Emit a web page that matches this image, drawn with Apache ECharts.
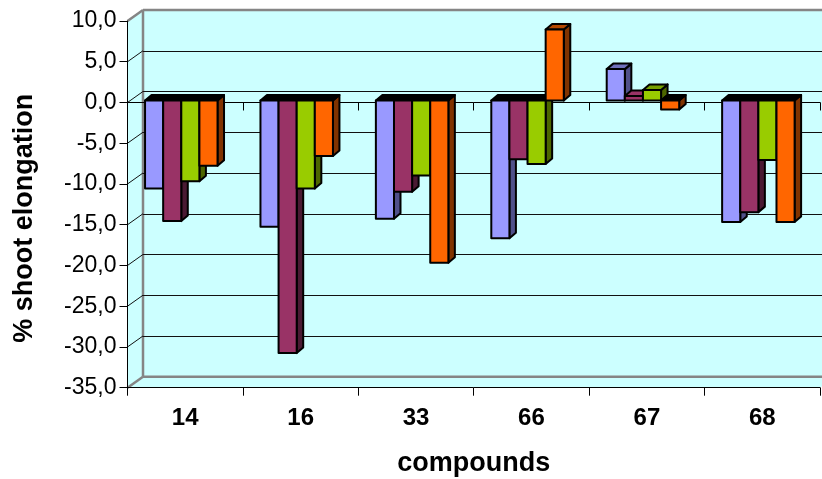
<!DOCTYPE html>
<html><head><meta charset="utf-8">
<style>html,body{margin:0;padding:0;background:#fff}#c{width:822px;height:479px}</style>
<script src="https://cdn.jsdelivr.net/npm/echarts@6/dist/echarts.min.js"></script>
</head><body><div id="c"></div>
<script>
const categories = ['14','16','33','66','67','68'];
const seriesA = [-10.8,-15.5,-14.5,-16.9,3.85,-14.9];
const seriesB = [-14.8,-31.0,-11.2,-7.2,0.55,-13.7];
const seriesC = [-9.9,-10.8,-9.2,-7.8,1.3,-7.3];
const seriesD = [-8.0,-6.8,-19.9,8.7,-1.1,-14.9];
const yTicks = [10,5,0,-5,-10,-15,-20,-25,-30,-35];
const allSeries = [seriesA,seriesB,seriesC,seriesD];
const faces = [
 {front:'#9999FF',top:'#7070BB',side:'#50508A'},
 {front:'#993366',top:'#993366',side:'#4A1A33'},
 {front:'#99CC00',top:'#77A000',side:'#4D6600'},
 {front:'#FF6600',top:'#B34700',side:'#803300'}
];
const WALL_DX=15.5, WALL_DY=-11, FRAME='#858585', WALL='#CCFFFF';
const BAR_DX=6.5, BAR_DY=-5.5, PLANE_DY=-2, BAR_START=0.152, BAR_W=0.157;

function wallsItem(params,api){
  const cs=params.coordSys;
  const l=cs.x,r=cs.x+cs.width,t=cs.y,b=cs.y+cs.height;
  const dx=WALL_DX,dy=WALL_DY;
  const fill={fill:WALL,stroke:null};
  const line=(x1,y1,x2,y2)=>({type:'line',shape:{x1,y1,x2,y2},style:{stroke:FRAME,lineWidth:2.5}});
  return {type:'group',silent:true,children:[
    {type:'polygon',shape:{points:[[l,t],[l+dx,t+dy],[r+dx,t+dy],[r+dx,b+dy],[r,b],[l,b]]},style:fill},
    line(l+dx,t+dy,r+dx,t+dy),line(l+dx,t+dy,l+dx,b+dy),line(l+dx,b+dy,r+dx,b+dy),
    line(l,t,l+dx,t+dy),line(l,b,l+dx,b+dy)
  ]};
}
function gridItem(params,api){
  const cs=params.coordSys, v=api.value(0), y=api.coord([0,v])[1];
  const l=cs.x,r=cs.x+cs.width;
  const st={stroke:'#111',lineWidth:1};
  const kids=[];
  if(v!==10&&v!==-35){
    kids.push({type:'line',shape:{x1:l,y1:y,x2:l+WALL_DX,y2:y+WALL_DY},style:st});
    kids.push({type:'line',shape:{x1:l+WALL_DX,y1:Math.round(y+WALL_DY)+.5,x2:r+WALL_DX,y2:Math.round(y+WALL_DY)+.5},style:st});
  }
  return {type:'group',silent:true,children:kids};
}
function barItem(si){
  return function(params,api){
    const c=api.value(0), v=api.value(1);
    const band=api.size([1,0])[0];
    const left=api.coord([c,0])[0]-band/2+BAR_START*band+si*BAR_W*band;
    const w=BAR_W*band;
    const y0=api.coord([c,0])[1]+PLANE_DY, y1=api.coord([c,v])[1]+PLANE_DY;
    const top=Math.min(y0,y1), bot=Math.max(y0,y1);
    const st=f=>({fill:f,stroke:'#000',lineWidth:2,lineJoin:'round'});
    const f=faces[si];
    return {type:'group',children:[
      {type:'polygon',shape:{points:[[left+w,top],[left+w+BAR_DX,top+BAR_DY],[left+w+BAR_DX,bot+BAR_DY],[left+w,bot]]},style:st(f.side)},
      {type:'polygon',shape:{points:[[left,top],[left+BAR_DX,top+BAR_DY],[left+w+BAR_DX,top+BAR_DY],[left+w,top]]},style:st(v<0?'#000':f.top)},
      {type:'rect',shape:{x:left,y:top,width:w,height:bot-top},style:st(f.front)}
    ]};
  };
}
const chart=echarts.init(document.getElementById('c'),null,{renderer:'canvas'});
const FONT='"Liberation Sans", Arial, sans-serif';
chart.setOption({
  animation:false,
  backgroundColor:'#fff',
  grid:{left:127.5,top:21,width:692.5,height:366.7,outerBoundsMode:'none'},
  xAxis:[
    {type:'category',position:'bottom',data:categories,
      axisLine:{onZero:false,lineStyle:{color:'#000',width:1}},
      axisTick:{show:true,alignWithLabel:false,length:8,lineStyle:{color:'#000'}},
      axisLabel:{margin:19,fontFamily:FONT,fontWeight:'bold',fontSize:24,color:'#000'},
      name:'compounds',nameLocation:'middle',nameGap:62,
      nameTextStyle:{fontFamily:FONT,fontWeight:'bold',fontSize:27,color:'#000'}},
    {type:'category',position:'bottom',data:categories,
      axisLine:{onZero:true,lineStyle:{color:'#000',width:1}},
      axisTick:{show:true,alignWithLabel:false,length:8,lineStyle:{color:'#000'}},
      axisLabel:{show:false}}
  ],
  yAxis:{type:'value',min:-35,max:10,interval:5,
    axisLine:{show:true,onZero:false,lineStyle:{color:'#000',width:1}},
    axisTick:{show:true,length:8,lineStyle:{color:'#000'}},
    splitLine:{show:false},
    axisLabel:{margin:11,fontFamily:FONT,fontSize:23,color:'#000',
      formatter:v=>v.toFixed(1).replace('.',',')},
    name:'% shoot elongation',nameLocation:'middle',nameGap:89,
    nameTextStyle:{fontFamily:FONT,fontWeight:'bold',fontSize:27,color:'#000',padding:[0,28,0,0]}},
  series:[
    {type:'custom',z:-3,clip:false,silent:true,data:[[0]],renderItem:wallsItem},
    {type:'custom',z:-2,clip:false,silent:true,data:yTicks.map(v=>[v]),encode:{y:0},renderItem:gridItem},
    ...allSeries.map((vals,si)=>({type:'custom',z:3+si,clip:false,
      data:vals.map((v,i)=>[i,v]),encode:{x:0,y:1},renderItem:barItem(si)}))
  ]
});
</script></body></html>
